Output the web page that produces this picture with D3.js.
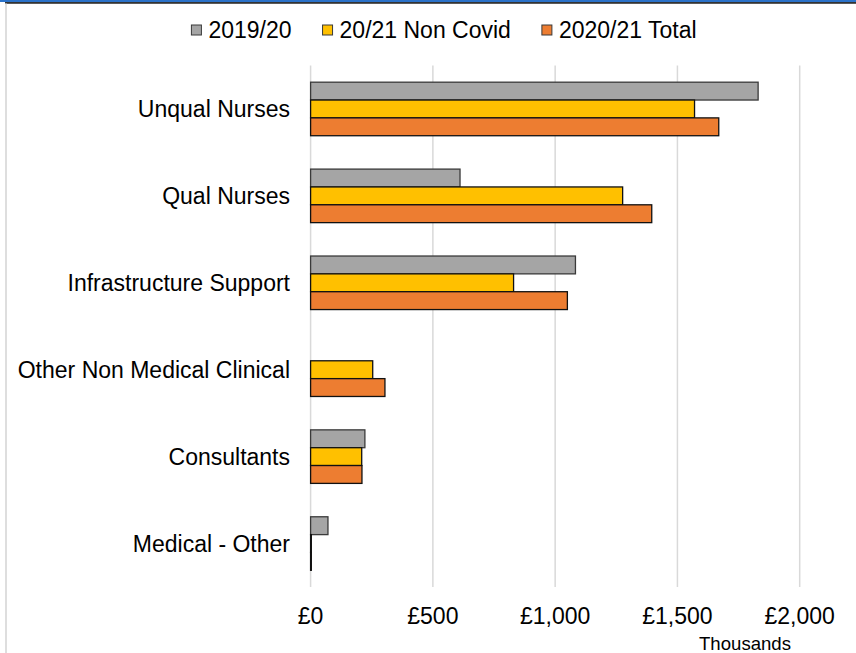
<!DOCTYPE html>
<html>
<head>
<meta charset="utf-8">
<script src="https://cdn.jsdelivr.net/npm/d3@7"></script>
<style>
  html, body { margin: 0; padding: 0; background: #fff; }
  svg { display: block; font-family: "Liberation Sans", Arial, sans-serif; }
</style>
</head>
<body>
<svg id="chart" width="856" height="653"></svg>
<script>
// Staff groups, top to bottom
const categories = ["Unqual Nurses", "Qual Nurses", "Infrastructure Support",
  "Other Non Medical Clinical", "Consultants", "Medical - Other"];

// Series names and colours
const seriesNames = ["2019/20", "20/21 Non Covid", "2020/21 Total"];
const seriesColors = ["#A5A5A5", "#FFC000", "#ED7D31"];

// Spend in £ thousands, one array per series (same order as categories)
const spend2019 = [1830, 611, 1083, 0, 222, 71];
const spendNonCovid = [1570, 1276, 830, 254, 209, 3];
const spendTotal = [1669, 1395, 1050, 304, 210, 3];
const seriesValues = [spend2019, spendNonCovid, spendTotal];

// Axis ticks
const tickValues = [0, 500, 1000, 1500, 2000];
const axisUnit = "Thousands";

const svg = d3.select("#chart");
const W = 856, H = 653;

// Frame: blue/dark rule across the top, thin grey rule down the left side
svg.append("rect").attr("x", 0).attr("y", 0).attr("width", W).attr("height", 2).attr("fill", "#2B72C9");
svg.append("rect").attr("x", 5).attr("y", 2).attr("width", W - 5).attr("height", 1.8).attr("fill", "#333");
svg.append("line").attr("x1", 6).attr("x2", 6).attr("y1", 3).attr("y2", H)
  .attr("stroke", "#C8C8C8").attr("stroke-width", 1.2);

const plotTop = 65.5, plotBottom = 587;
const x = d3.scaleLinear().domain([0, 2000]).range([310.6, 799.7]);
const y = d3.scaleBand().domain(categories).range([plotTop, plotBottom])
  .paddingInner(0.384).paddingOuter(0.192);
const ySeries = d3.scaleBand().domain(d3.range(seriesNames.length)).range([0, y.bandwidth()]);

// Vertical gridlines
svg.append("g").selectAll("line").data(tickValues).join("line")
  .attr("x1", d => x(d)).attr("x2", d => x(d))
  .attr("y1", plotTop).attr("y2", plotBottom)
  .attr("stroke", "#D9D9D9").attr("stroke-width", 1.5);

// Bars
const groups = svg.append("g").selectAll("g").data(categories).join("g")
  .attr("transform", c => `translate(0,${y(c)})`);

groups.selectAll("rect")
  .data((c, ci) => seriesValues.map((vals, si) => ({ si, v: vals[ci] })).filter(d => d.v > 0))
  .join("rect")
  .attr("x", x(0))
  .attr("y", d => ySeries(d.si))
  .attr("width", d => Math.max(0, x(d.v) - x(0)))
  .attr("height", ySeries.bandwidth())
  .attr("fill", d => seriesColors[d.si])
  .attr("stroke", d => d.si === 0 ? "#3A3A3A" : "#111")
  .attr("stroke-width", 1.3);

// Category labels
svg.append("g").selectAll("text").data(categories).join("text")
  .attr("x", 290)
  .attr("y", c => y(c) + y.bandwidth() / 2)
  .attr("dy", "0.36em")
  .attr("text-anchor", "end")
  .attr("font-size", 23)
  .attr("fill", "#000")
  .text(c => c);

// X tick labels
const fmt = d3.format(",");
svg.append("g").selectAll("text").data(tickValues).join("text")
  .attr("x", d => x(d))
  .attr("y", 624)
  .attr("text-anchor", "middle")
  .attr("font-size", 23)
  .attr("fill", "#000")
  .text(d => "£" + fmt(d));

svg.append("text")
  .attr("x", 791).attr("y", 650)
  .attr("text-anchor", "end")
  .attr("font-size", 18.6)
  .attr("fill", "#000")
  .text(axisUnit);

// Legend, centred above the plot
const legend = svg.append("g");
const items = legend.selectAll("g").data(seriesNames).join("g");
items.append("rect")
  .attr("y", 25).attr("width", 10).attr("height", 10)
  .attr("fill", (d, i) => seriesColors[i])
  .attr("stroke", "#3A3A3A").attr("stroke-width", 1);
items.append("text")
  .attr("x", 17).attr("y", 38)
  .attr("font-size", 23).attr("fill", "#000")
  .text(d => d);

let cursor = 0;
items.each(function () {
  const g = d3.select(this);
  const tw = g.select("text").node().getComputedTextLength();
  g.attr("transform", `translate(${cursor},0)`);
  cursor += 17 + tw + 31;
});
const legendWidth = cursor - 31;
legend.attr("transform", `translate(${444 - legendWidth / 2},0)`);
</script>
</body>
</html>
